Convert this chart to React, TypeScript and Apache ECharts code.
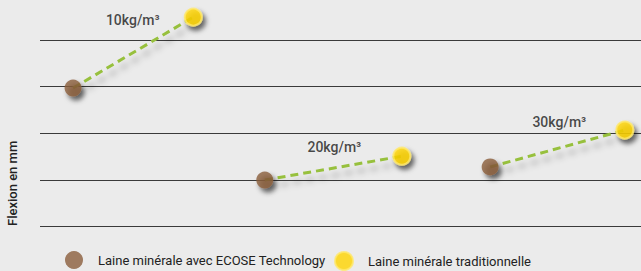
import React, { useEffect, useRef } from "react";
import * as echarts from "echarts";

const densities = ["10kg/m³", "20kg/m³", "30kg/m³"];
const ecoseX = [5.5, 37.4, 74.9];
const ecoseY = [2.97, 1.0, 1.28];
const tradX = [25.5, 60.2, 97.3];
const tradY = [4.49, 1.51, 2.07];
const seriesNames = ["Laine minérale avec ECOSE Technology", "Laine minérale traditionnelle"];
const labelOffsets = [[0, 3], [-7, -9], [-5, -8]];

const FONT = "Roboto, 'Noto Sans', sans-serif";

export default function App() {
  const ref = useRef<HTMLDivElement>(null);
  useEffect(() => {
    const chart = echarts.init(ref.current!, null, { renderer: "svg" });
    const lineSeries = densities.map((d, i) => ({
      type: "line",
      silent: true,
      symbol: "none",
      clip: false,
      data: [[ecoseX[i], ecoseY[i]], [tradX[i], tradY[i]]],
      lineStyle: {
        color: "#97c03c",
        width: 3,
        type: [8, 5],
        shadowColor: "rgba(0,0,0,0.3)",
        shadowBlur: 6,
        shadowOffsetX: 3,
        shadowOffsetY: 7,
      },
      z: 2,
    }));
    const legendText = { fontFamily: FONT, fontSize: 13, color: "#222", padding: [0, 0, 0, 10] };
    chart.setOption({
      animation: false,
      backgroundColor: "#ebebeb",
      grid: { left: 40, right: 0, top: 40, bottom: 44.3 },
      xAxis: {
        type: "value",
        min: 0,
        max: 100,
        show: false,
      },
      yAxis: {
        type: "value",
        min: 0,
        max: 4,
        interval: 1,
        axisLine: { show: false },
        axisTick: { show: false },
        axisLabel: { show: false },
        splitLine: { lineStyle: { color: "#3a3a3a", width: 1 } },
      },
      legend: [
        {
          data: [seriesNames[0]],
          left: 60,
          top: 246,
          itemWidth: 18,
          itemHeight: 18,
          icon: "circle",
          textStyle: legendText,
        },
        {
          data: [seriesNames[1]],
          left: 329,
          top: 246,
          itemWidth: 18,
          itemHeight: 18,
          icon: "circle",
          textStyle: legendText,
        },
      ],
      graphic: [
        {
          type: "text",
          x: 6,
          y: 226,
          rotation: Math.PI / 2,
          style: {
            text: "Flexion en mm",
            font: `500 13px ${FONT}`,
            fill: "#222",
          },
        },
      ],
      series: [
        ...lineSeries,
        {
          name: seriesNames[0],
          type: "scatter",
          clip: false,
          symbolSize: 17,
          data: ecoseX.map((x, i) => [x, ecoseY[i]]),
          itemStyle: {
            color: "#8b5e3c",
            shadowColor: "rgba(0,0,0,0.7)",
            shadowBlur: 5,
            shadowOffsetX: 3,
            shadowOffsetY: 4,
          },
          z: 3,
        },
        {
          name: seriesNames[1],
          type: "scatter",
          clip: false,
          symbolSize: 17,
          data: tradX.map((x, i) => ({
            value: [x, tradY[i]],
            label: {
              show: true,
              position: "left",
              distance: 24,
              offset: labelOffsets[i],
              formatter: densities[i],
              fontFamily: FONT,
              fontWeight: 500,
              fontSize: 14,
              color: "#1a1a1a",
            },
          })),
          itemStyle: {
            color: "#ffd400",
            borderColor: "#ffe86a",
            borderWidth: 2,
            shadowColor: "rgba(0,0,0,0.7)",
            shadowBlur: 5,
            shadowOffsetX: 3,
            shadowOffsetY: 4,
          },
          z: 3,
        },
      ],
    });
    return () => chart.dispose();
  }, []);
  return <div ref={ref} style={{ position: "absolute", left: 0, top: 0, width: 641, height: 271 }} />;
}
